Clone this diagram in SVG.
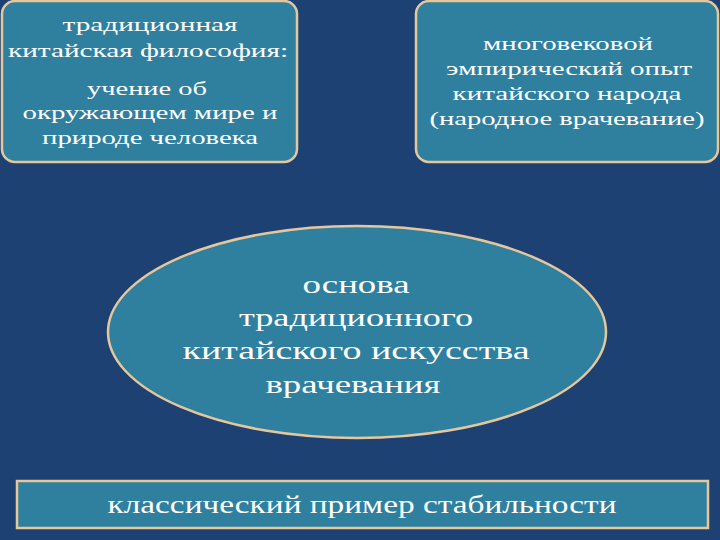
<svg xmlns="http://www.w3.org/2000/svg" width="720" height="540" viewBox="0 0 720 540">
<style>
.box{fill:#2f7f9f;stroke:#e6c79c;stroke-width:2.5}
.t{font-family:"Liberation Serif","DejaVu Serif",serif;fill:#ffffff;text-anchor:middle}
.s{font-size:19px}
.m{font-size:25px}
.b{font-size:25px}
</style>
<rect width="720" height="540" fill="#1e4174"/>
<g id="philosophy">
<rect class="box" x="2" y="1" width="295" height="161" rx="13"/>
<text class="t s" x="150" y="31" textLength="175" lengthAdjust="spacingAndGlyphs">традиционная</text>
<text class="t s" x="148" y="57" textLength="280" lengthAdjust="spacingAndGlyphs">китайская философия:</text>
<text class="t s" x="147" y="95" textLength="120" lengthAdjust="spacingAndGlyphs">учение об</text>
<text class="t s" x="150" y="119" textLength="255" lengthAdjust="spacingAndGlyphs">окружающем мире и</text>
<text class="t s" x="150" y="144" textLength="216" lengthAdjust="spacingAndGlyphs">природе человека</text>
</g>
<g id="experience">
<rect class="box" x="416" y="1" width="302" height="161" rx="13"/>
<text class="t s" x="568" y="50" textLength="170" lengthAdjust="spacingAndGlyphs">многовековой</text>
<text class="t s" x="569" y="75" textLength="246" lengthAdjust="spacingAndGlyphs">эмпирический опыт</text>
<text class="t s" x="567" y="100" textLength="229" lengthAdjust="spacingAndGlyphs">китайского народа</text>
<text class="t s" x="567" y="125" textLength="275" lengthAdjust="spacingAndGlyphs">(народное врачевание)</text>
</g>
<g id="basis">
<ellipse class="box" cx="357" cy="332" rx="249" ry="106"/>
<text class="t m" x="356" y="293" textLength="107" lengthAdjust="spacingAndGlyphs">основа</text>
<text class="t m" x="356" y="326" textLength="234" lengthAdjust="spacingAndGlyphs">традиционного</text>
<text class="t m" x="356" y="359" textLength="347" lengthAdjust="spacingAndGlyphs">китайского искусства</text>
<text class="t m" x="353" y="393" textLength="175" lengthAdjust="spacingAndGlyphs">врачевания</text>
</g>
<g id="stability">
<rect class="box" x="17" y="481" width="691" height="47"/>
<text class="t b" x="362" y="513" textLength="509" lengthAdjust="spacingAndGlyphs">классический пример стабильности</text>
</g>
<g id="connectors"/>
</svg>
